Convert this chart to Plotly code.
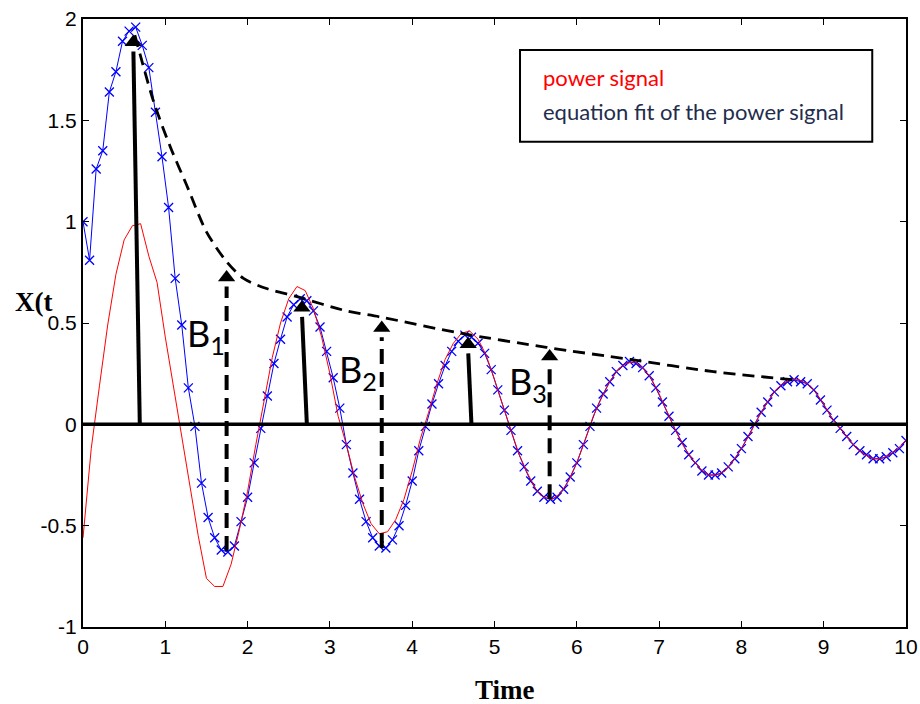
import plotly.graph_objects as go

# ---------------- data ----------------
fit_t = [0.00, 0.08, 0.16, 0.24, 0.32, 0.40, 0.48, 0.56, 0.64, 0.72, 0.80, 0.88, 0.96, 1.04, 1.12, 1.20,
         1.28, 1.36, 1.44, 1.52, 1.60, 1.68, 1.76, 1.84, 1.92, 2.00, 2.08, 2.16, 2.24, 2.32, 2.40, 2.48,
         2.56, 2.64, 2.72, 2.80, 2.88, 2.96, 3.04, 3.12, 3.20, 3.28, 3.36, 3.44, 3.52, 3.60, 3.68, 3.76,
         3.84, 3.92, 4.00, 4.08, 4.16, 4.24, 4.32, 4.40, 4.48, 4.56, 4.64, 4.72, 4.80, 4.88, 4.96, 5.04,
         5.12, 5.20, 5.28, 5.36, 5.44, 5.52, 5.60, 5.68, 5.76, 5.84, 5.92, 6.00, 6.08, 6.16, 6.24, 6.32,
         6.40, 6.48, 6.56, 6.64, 6.72, 6.80, 6.88, 6.96, 7.04, 7.12, 7.20, 7.28, 7.36, 7.44, 7.52, 7.60,
         7.68, 7.76, 7.84, 7.92, 8.00, 8.08, 8.16, 8.24, 8.32, 8.40, 8.48, 8.56, 8.64, 8.72, 8.80, 8.88,
         8.96, 9.04, 9.12, 9.20, 9.28, 9.36, 9.44, 9.52, 9.60, 9.68, 9.76, 9.84, 9.92, 10.00]
fit_x = [1.00, 0.81, 1.26, 1.35, 1.64, 1.74, 1.89, 1.94, 1.96, 1.87, 1.76, 1.54, 1.32, 1.07, 0.72, 0.49,
         0.18, -0.01, -0.29, -0.46, -0.56, -0.62, -0.63, -0.60, -0.48, -0.36, -0.19, -0.02, 0.14, 0.30, 0.42, 0.53,
         0.59, 0.62, 0.61, 0.56, 0.48, 0.36, 0.23, 0.08, -0.10, -0.24, -0.37, -0.48, -0.56, -0.60, -0.61, -0.57,
         -0.50, -0.40, -0.28, -0.13, -0.01, 0.10, 0.20, 0.29, 0.36, 0.41, 0.44, 0.43, 0.40, 0.35, 0.27, 0.17,
         0.07, -0.03, -0.13, -0.21, -0.28, -0.33, -0.36, -0.37, -0.36, -0.32, -0.26, -0.19, -0.10, -0.01, 0.08, 0.15,
         0.21, 0.26, 0.29, 0.31, 0.30, 0.28, 0.24, 0.18, 0.11, 0.04, -0.03, -0.09, -0.15, -0.19, -0.23, -0.25,
         -0.25, -0.24, -0.21, -0.17, -0.12, -0.06, 0.00, 0.06, 0.11, 0.16, 0.19, 0.21, 0.22, 0.21, 0.20, 0.17,
         0.12, 0.07, 0.02, -0.02, -0.06, -0.10, -0.13, -0.15, -0.17, -0.17, -0.16, -0.14, -0.12, -0.08]

power_t = [0.0, 0.1, 0.2, 0.3, 0.4, 0.5, 0.6, 0.7, 0.8, 0.9, 1.0, 1.1, 1.2, 1.3, 1.4, 1.5, 1.6, 1.7, 1.8, 1.9,
           2.0, 2.1, 2.2, 2.3, 2.4, 2.5, 2.6, 2.7, 2.8, 2.9, 3.0, 3.1, 3.2, 3.3, 3.4, 3.5, 3.6, 3.7, 3.8, 3.9,
           4.0, 4.1, 4.2, 4.3, 4.4, 4.5, 4.6, 4.7, 4.8, 4.9, 5.0, 5.1, 5.2, 5.3, 5.4, 5.5, 5.6, 5.7, 5.8, 5.9,
           6.0, 6.1, 6.2, 6.3, 6.4, 6.5, 6.6, 6.7, 6.8, 6.9, 7.0, 7.1, 7.2, 7.3, 7.4, 7.5, 7.6, 7.7, 7.8, 7.9,
           8.0, 8.1, 8.2, 8.3, 8.4, 8.5, 8.6, 8.7, 8.8, 8.9, 9.0, 9.1, 9.2, 9.3, 9.4, 9.5, 9.6, 9.7, 9.8, 9.9, 10.0]
power_x = [-0.56, -0.12, 0.19, 0.49, 0.74, 0.91, 0.98, 0.99, 0.83, 0.70, 0.43, 0.18, -0.06, -0.32, -0.55, -0.76,
           -0.80, -0.80, -0.69, -0.52, -0.33, -0.10, 0.12, 0.33, 0.50, 0.62, 0.68, 0.66, 0.57, 0.43, 0.25, 0.04,
           -0.10, -0.26, -0.39, -0.49, -0.54, -0.53, -0.47, -0.37, -0.23, -0.07, 0.06, 0.20, 0.32, 0.40, 0.45, 0.46,
           0.42, 0.34, 0.22, 0.09, -0.03, -0.15, -0.24, -0.32, -0.36, -0.37, -0.34, -0.28, -0.19, -0.08, 0.04, 0.13,
           0.21, 0.27, 0.30, 0.31, 0.28, 0.23, 0.15, 0.06, -0.03, -0.11, -0.17, -0.22, -0.25, -0.25, -0.23, -0.18,
           -0.12, -0.05, 0.03, 0.10, 0.16, 0.20, 0.22, 0.22, 0.20, 0.16, 0.10, 0.03, -0.02, -0.07, -0.12, -0.15,
           -0.17, -0.17, -0.15, -0.12, -0.08]

env_t = [0.63, 0.86, 1.06, 1.26, 1.50, 1.75, 1.95, 2.23, 2.60, 3.20, 3.61, 4.58, 5.63, 6.65, 7.66, 8.63]
env_x = [1.92, 1.59, 1.37, 1.18, 0.95, 0.80, 0.72, 0.67, 0.63, 0.56, 0.53, 0.45, 0.38, 0.32, 0.26, 0.22]

solid_base_t = [0.69, 2.72, 4.72]
solid_tip_t = [0.61, 2.66, 4.68]
solid_tip_x = [1.93, 0.62, 0.44]

dash_t = [1.745, 3.63, 5.67]
dash_bottom = [-0.625, -0.61, -0.37]
dash_tip = [0.77, 0.52, 0.38]

b_labels = ["B<sub>1</sub>", "B<sub>2</sub>", "B<sub>3</sub>"]
b_t = [1.24, 3.09, 5.15]
b_x = [0.44, 0.26, 0.20]

x_ticks = [0, 1, 2, 3, 4, 5, 6, 7, 8, 9, 10]
y_ticks = [-1, -0.5, 0, 0.5, 1, 1.5, 2]
y_tick_text = ["-1", "-0.5", "0", "0.5", "1", "1.5", "2"]

# ---------------- figure ----------------
fig = go.Figure()

fig.add_trace(go.Scatter(x=fit_t, y=fit_x, mode="lines+markers",
                         line=dict(color="#0000FF", width=1),
                         marker=dict(symbol="x-thin", size=9, line=dict(color="#0000FF", width=1.3)),
                         showlegend=False))
fig.add_trace(go.Scatter(x=power_t, y=power_x, mode="lines",
                         line=dict(color="#FF0000", width=1), showlegend=False))

# envelope
fig.add_trace(go.Scatter(x=env_t, y=env_x, mode="lines", line_shape="spline",
                         line=dict(color="black", width=2.8, dash="12px,7px", smoothing=0.8),
                         showlegend=False))

# zero line
fig.add_trace(go.Scatter(x=[x_ticks[0], x_ticks[-1]], y=[0, 0], mode="lines",
                         line=dict(color="black", width=3.5), showlegend=False))

HEAD = 0.045
# solid arrows
for bt, tt, ty in zip(solid_base_t, solid_tip_t, solid_tip_x):
    fig.add_trace(go.Scatter(x=[bt, tt + (bt - tt) * 0.03], y=[0, ty - 2 * HEAD], mode="lines",
                             line=dict(color="black", width=4), showlegend=False))
    fig.add_trace(go.Scatter(x=[tt], y=[ty - HEAD], mode="markers",
                             marker=dict(symbol="triangle-up", size=15, color="black"),
                             showlegend=False))
# dashed arrows
for dt, db, dtp in zip(dash_t, dash_bottom, dash_tip):
    fig.add_trace(go.Scatter(x=[dt, dt], y=[db, dtp - 2 * HEAD], mode="lines",
                             line=dict(color="black", width=4, dash="15px,8px"), showlegend=False))
    fig.add_trace(go.Scatter(x=[dt], y=[dtp - HEAD], mode="markers",
                             marker=dict(symbol="triangle-up", size=15, color="black"),
                             showlegend=False))

annotations = []
for lab, lt, lx in zip(b_labels, b_t, b_x):
    annotations.append(dict(x=lt, y=lx, xref="x", yref="y", text=lab, showarrow=False,
                            xanchor="left", yanchor="middle",
                            font=dict(family="Lato", size=36, color="black")))

annotations.append(dict(x=-0.06, y=0.535, xref="paper", yref="paper", text="<b>X(t</b>",
                        showarrow=False, xanchor="center", yanchor="middle",
                        font=dict(family="Liberation Serif", size=27, color="black")))
annotations.append(dict(x=0.513, y=-0.103, xref="paper", yref="paper", text="<b>Time</b>",
                        showarrow=False, xanchor="center", yanchor="middle",
                        font=dict(family="Liberation Serif", size=27, color="black")))
annotations.append(dict(x=0.556, y=0.903, xref="paper", yref="paper", text="power signal",
                        showarrow=False, xanchor="left", yanchor="middle",
                        font=dict(family="Lato", size=22, color="#FF0000")))
annotations.append(dict(x=0.556, y=0.848, xref="paper", yref="paper",
                        text="equation fit of the power signal",
                        showarrow=False, xanchor="left", yanchor="middle",
                        font=dict(family="Lato", size=22, color="#1F2D4D")))

fig.update_layout(
    width=920, height=704,
    margin=dict(l=83, r=14, t=19, b=77),
    paper_bgcolor="white", plot_bgcolor="white",
    annotations=annotations,
    shapes=[dict(type="rect", xref="paper", yref="paper", x0=0.531, x1=0.959, y0=0.798, y1=0.949,
                 line=dict(color="black", width=2), fillcolor="rgba(0,0,0,0)")],
    xaxis=dict(range=[0, 10], tickvals=x_ticks, ticks="inside", ticklen=6, tickcolor="black",
               showgrid=False, zeroline=False, showline=True, linecolor="black", linewidth=2,
               mirror="allticks", automargin=False,
               tickfont=dict(family="Liberation Sans", size=21, color="black")),
    yaxis=dict(range=[-1, 2], tickvals=y_ticks, ticktext=y_tick_text, ticks="inside", ticklen=6,
               tickcolor="black", showgrid=False, zeroline=False, showline=True, linecolor="black",
               linewidth=2, mirror="allticks", automargin=False,
               tickfont=dict(family="Liberation Sans", size=21, color="black")),
)

fig.write_html("out.html")
